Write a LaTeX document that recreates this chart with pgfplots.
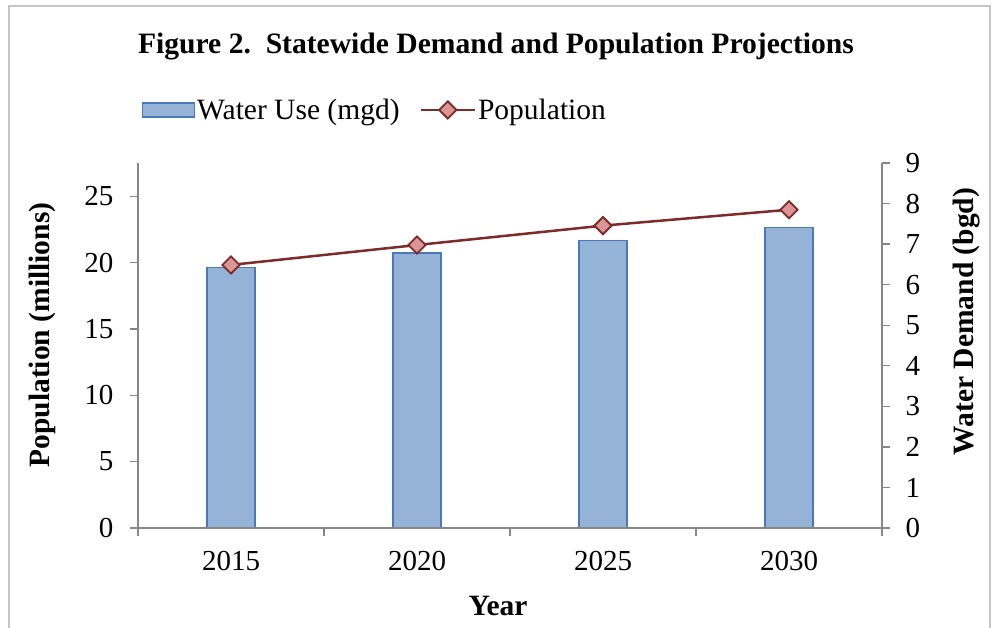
\documentclass[border=0pt]{standalone}
\usepackage{pgfplots}
\pgfplotsset{compat=1.18}
\usepackage{pgfplotstable}
\usepackage{fontspec}
\setmainfont{Liberation Serif}

\definecolor{barfill}{RGB}{149,179,215}
\definecolor{barline}{RGB}{74,122,182}
\definecolor{popline}{RGB}{124,42,42}
\definecolor{popfill}{RGB}{217,150,148}
\definecolor{axisgray}{RGB}{134,134,134}
\definecolor{framegray}{RGB}{196,196,196}

% Projections: water demand (bgd) and population (millions)
\pgfplotstableread{
idx year water pop
0   2015 6.43  19.82
1   2020 6.78  21.32
2   2025 7.08  22.78
3   2030 7.41  23.98
}\projdata

\newcommand{\tickfont}{\fontsize{29}{33}\selectfont}
\newcommand{\labelfont}{\fontsize{29.5}{34}\selectfont}

\pgfplotsset{
  common/.style={
    at={(138pt,100pt)}, anchor=south west,
    scale only axis, width=744pt, height=365pt,
    xmin=-0.5, xmax=3.5, ymin=0,
    axis line style={axisgray, line width=1.3pt},
    tick style={axisgray, line width=1.3pt},
    tick align=outside,
    major tick length=8pt,
    tick label style={font=\tickfont},
    /pgf/number format/assume math mode=true,
    clip=false,
  },
}

\begin{document}
\begin{tikzpicture}[x=1pt,y=1pt]
\path[use as bounding box] (0,0) rectangle (998,628);
\draw[framegray, line width=2pt] (9,-10) -- (9,622) -- (990,622) -- (990,-10);

% water demand bars on the right-hand axis
\begin{axis}[common,
  ymax=9, ytick={0,1,...,9},
  axis y line*=right, axis x line=none,
  yticklabel style={xshift=12pt},
  ybar, bar width=48pt,
]
\addplot[fill=barfill, draw=barline, line width=1.2pt] table[x=idx, y=water]{\projdata};
\end{axis}

% population line on the left-hand axis, with the shared legend
\begin{axis}[common,
  ymax=27.5, ytick={0,5,...,25},
  axis y line*=left, axis x line*=bottom,
  yticklabel style={xshift=-13pt},
  xtick={-0.5,0.5,1.5,2.5,3.5},
  xticklabels={2015,2020,2025,2030,{}},
  xticklabel style={xshift=93pt, yshift=-12pt},
  legend columns=2,
  legend style={draw=none, fill=none, at={(0.3185,1.1452)}, anchor=center,
    font=\labelfont, inner sep=0pt,
    /tikz/every even column/.append style={column sep=18pt}},
]
\addlegendimage{area legend, legend image code/.code={
  \draw[fill=barfill, draw=barline, line width=1.2pt] (0pt,-7pt) rectangle (52pt,7pt);}}
\addlegendentry{Water Use (mgd)}
\addplot[popline, line width=2.5pt, mark=square*,
  mark options={rotate=45, fill=popfill, draw=popline, line width=1.8pt, mark size=6.1pt},
  legend image code/.code={
    \draw[popline, line width=2.5pt] (0pt,0pt) -- (54pt,0pt);
    \draw[popline, fill=popfill, line width=1.8pt, rotate around={45:(27pt,0pt)}]
      (27pt,0pt) ++(-6.1pt,-6.1pt) rectangle ++(12.2pt,12.2pt);}]
  table[x=idx, y=pop]{\projdata};
\addlegendentry{Population}
\end{axis}

% titles
\node[anchor=base, font=\fontsize{29.6}{34}\selectfont\bfseries] at (496,574.5)
  {Figure 2.\ \ Statewide Demand and Population Projections};
\node[anchor=base, font=\labelfont\bfseries] at (498,12) {Year};
\node[rotate=90, font=\labelfont\bfseries] at (42,293) {Population (millions)};
\node[rotate=90, font=\labelfont\bfseries] at (967,306.5) {Water Demand (bgd)};
\end{tikzpicture}
\end{document}
